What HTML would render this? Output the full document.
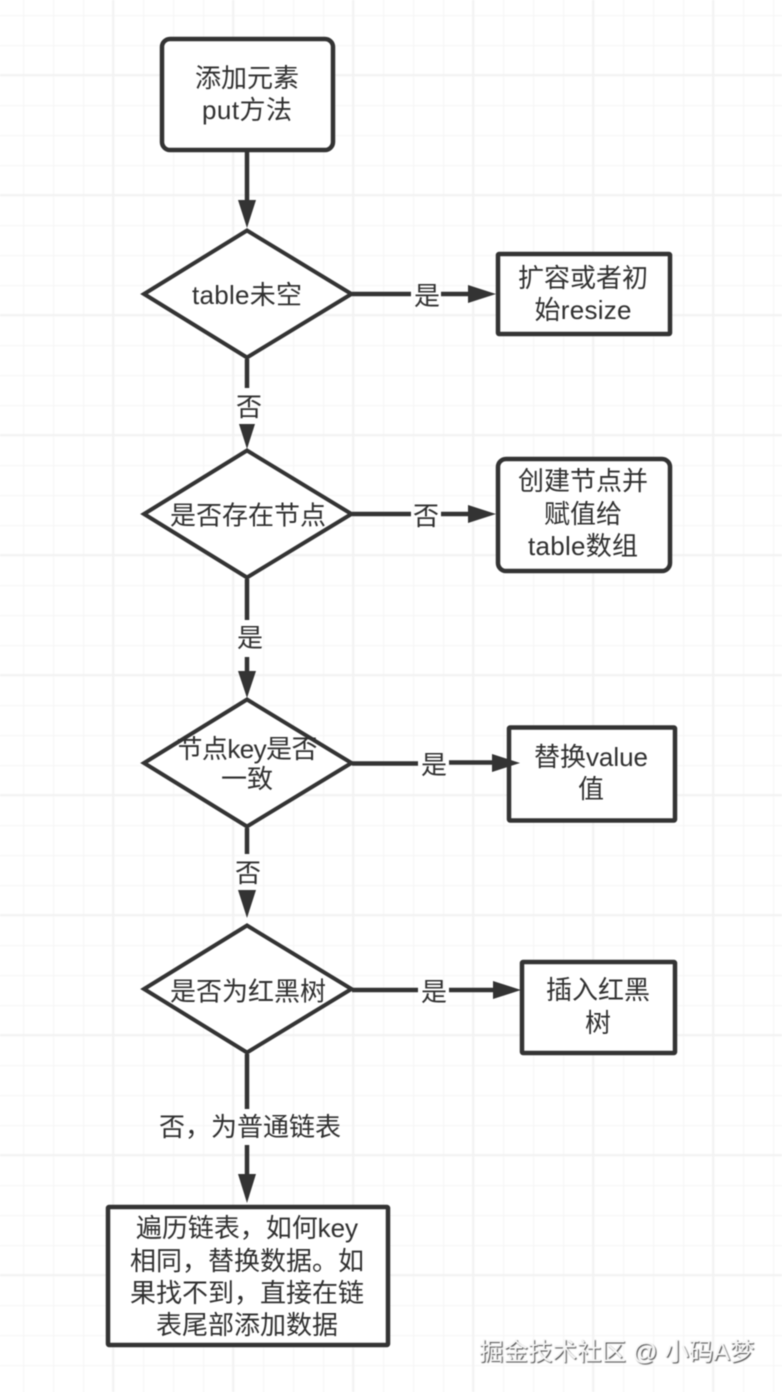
<!DOCTYPE html>
<html><head><meta charset="utf-8"><style>
html,body{margin:0;padding:0;background:#fff;width:782px;height:1392px;overflow:hidden}
svg{display:block;filter:blur(0.55px)}
text{font-family:"Liberation Sans","Noto Sans CJK SC",sans-serif;font-size:26px;fill:#303030;text-anchor:middle}
.wm{font-size:24.500px;fill:#f6f6f6;text-anchor:start;text-shadow:1px 1px 1px #444}
</style></head><body>
<svg xmlns="http://www.w3.org/2000/svg" width="782" height="1392" viewBox="0 0 782 1392">
<defs>
<pattern id="minor" width="30" height="30" patternUnits="userSpaceOnUse" x="23" y="15">
<path d="M0.5 0V30M0 0.5H30" stroke="#f7f7f7" stroke-width="1.500" fill="none"/>
</pattern>
<pattern id="major" width="120" height="120" patternUnits="userSpaceOnUse" x="112" y="74">
<path d="M1 0V120M0 1H120" stroke="#f3f3f3" stroke-width="2.500" fill="none"/>
</pattern>
</defs>
<rect width="782" height="1392" fill="#fff"/>
<rect width="782" height="1392" fill="url(#minor)"/>
<rect width="782" height="1392" fill="url(#major)"/>

<g fill="none" stroke="#333" stroke-width="4.500">
<path d="M247 152V202"/>
<path d="M247 359V388"/>
<path d="M247 579V620M247 657V674"/>
<path d="M247 828V854"/>
<path d="M247 1054V1109M247 1145V1176"/>
<path d="M352 294H411M441 294H470"/>
<path d="M352 514H411M441 514H470"/>
<path d="M352 763.500H418M449 762.500H494"/>
<path d="M352 990H418M449 990H495"/>
</g>

<g fill="#fff" stroke="#333" stroke-width="4.500">
<rect x="162" y="39" width="171" height="111" rx="8"/>
<rect x="498" y="254" width="172" height="80" rx="1"/>
<rect x="498" y="459" width="172" height="112" rx="8"/>
<rect x="509" y="727.500" width="166" height="93" rx="1"/>
<rect x="522" y="962" width="153" height="91" rx="1"/>
<rect x="108" y="1207" width="280" height="138" rx="1"/>
</g>
<g fill="#fff" stroke="#333" stroke-width="4" stroke-miterlimit="6">
<path d="M247 230.500L351.500 294L247 357.500L144 294Z"/>
<path d="M247 450.500L351.500 514L247 577.500L144 514Z"/>
<path d="M247 699.500L351.500 763L247 826.500L144 763Z"/>
<path d="M247 925.500L351.500 989L247 1052.500L144 989Z"/>
</g>

<g fill="#333">
<path d="M238 200H256L247 228Z"/>
<path d="M239 424H255L247 449Z"/>
<path d="M238 671H256L247 698Z"/>
<path d="M238 890H256L247 918Z"/>
<path d="M238 1174H256L247 1203Z"/>
<path d="M468 285L496 294L468 303Z"/>
<path d="M468 505L496 514L468 523Z"/>
<path d="M492 754L520 763L492 772Z"/>
<path d="M493 981L521 990L493 999Z"/>
</g>

<text x="247" y="87">添加元素</text>
<text x="247" y="119" textLength="90">put方法</text>
<text x="247" y="304" textLength="110">table未空</text>
<text x="248" y="524.500">是否存在节点</text>
<text x="247" y="758" textLength="141">节点key是否</text>
<text x="247" y="788">一致</text>
<text x="248" y="1000.500">是否为红黑树</text>
<text x="583" y="287">扩容或者初</text>
<text x="583" y="319" textLength="97">始resize</text>
<text x="583" y="490">创建节点并</text>
<text x="583" y="523">赋值给</text>
<text x="583" y="555" textLength="110">table数组</text>
<text x="591" y="766" textLength="114">替换value</text>
<text x="591" y="798">值</text>
<text x="598" y="999">插入红黑</text>
<text x="598" y="1032">树</text>
<text x="427" y="305">是</text>
<text x="249" y="416">否</text>
<text x="426" y="525">否</text>
<text x="250" y="647">是</text>
<text x="434" y="774">是</text>
<text x="248" y="882">否</text>
<text x="434" y="1001">是</text>
<text x="250" y="1136">否，为普通链表</text>
<text x="247" y="1237" textLength="222">遍历链表，如何key</text>
<text x="247" y="1270">相同，替换数据。如</text>
<text x="247" y="1302">果找不到，直接在链</text>
<text x="247" y="1334">表尾部添加数据</text>
<text class="wm" x="479" y="1360">掘金技术社区 @ 小码A梦</text>
</svg>
</body></html>
